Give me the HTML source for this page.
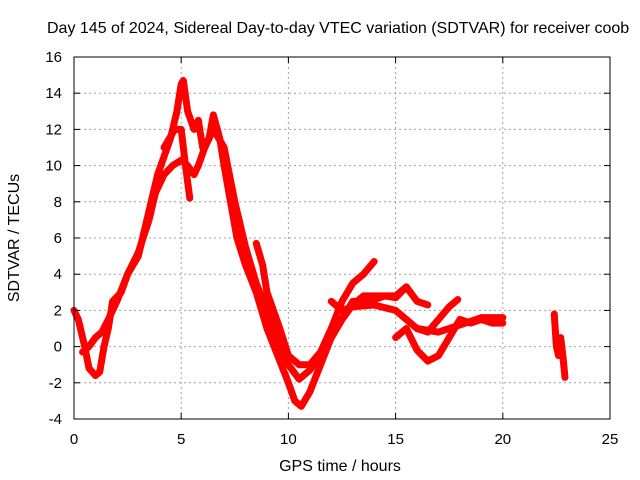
<!DOCTYPE html>
<html><head><meta charset="utf-8"><style>
body{margin:0;background:#fff}
svg{display:block;font-family:"Liberation Sans",sans-serif}
</style></head><body>
<svg id="chart" width="640" height="480">
<text x="47" y="33" font-size="16" text-anchor="start">Day 145 of 2024, Sidereal Day-to-day VTEC variation (SDTVAR) for receiver coob</text>
<text x="340" y="471" font-size="16" text-anchor="middle">GPS time / hours</text>
<text transform="translate(19,238) rotate(-90)" font-size="16" text-anchor="middle">SDTVAR / TECUs</text>
<g id="grid"></g><g id="series"></g><g id="axes"></g>
</svg>
<script>
const xTicks=[0,5,10,15,20,25];
const yTicks=[-4,-2,0,2,4,6,8,10,12,14,16];
const track1=[[0,2],[0.2,1.5],[0.5,0],[0.7,-1.2],[1.0,-1.6],[1.2,-1.4],[1.4,0],[1.6,1],[1.8,2.5],[2.2,3],[2.5,4],[3,5],[3.3,6.5],[3.6,8],[3.9,9.5],[4.2,10.5],[4.5,11.5],[4.8,13],[5.0,14.5],[5.1,14.7],[5.3,13],[5.6,12],[5.8,12.5],[6.0,11],[6.3,11.5],[6.5,12.8],[6.8,11.5],[7.0,10],[7.3,8],[7.6,6],[8,4.5],[8.5,3],[9,1],[9.5,-0.5],[10,-2],[10.3,-3],[10.6,-3.3],[11,-2.5],[11.5,-1],[12,0.5],[12.5,1.5],[13,2.3],[13.5,2.8],[14,2.8],[15,2.8],[15.5,3.3]];
const track2=[[0.4,-0.3],[0.7,0],[1,0.5],[1.3,0.8],[1.6,1.5],[2,2.5],[2.5,4],[3,5.2],[3.5,7],[3.8,8.5],[4.2,9.5],[4.6,10],[5,10.3],[5.3,10],[5.6,9.5],[5.8,10],[6.1,11],[6.5,12],[7,11],[7.5,8],[8,5.5],[8.5,3.5],[9,2],[9.5,0.5],[10,-1],[10.5,-1.8],[11,-1.3],[11.5,-0.5],[12,0.5],[12.5,1.5],[13,2.5],[13.5,2.5],[14,2.6],[14.5,2.8],[15,2.7],[15.5,3.3],[16,2.5],[16.5,2.3]];
const track3=[[4.2,11],[4.7,12],[5.0,12],[5.2,10],[5.4,8.2]];
const track4=[[8.5,5.7],[8.8,4.5],[9,3],[9.3,2],[9.6,1],[10,-0.5],[10.5,-1],[11,-1],[11.5,-0.3],[12,1],[12.5,2.5],[13,3.5],[13.5,4],[14,4.7]];
const track5=[[15,0.5],[15.5,1],[16,-0.2],[16.5,-0.8],[17,-0.5],[17.5,0.5],[18,1.5],[18.5,1.3],[19,1.5],[19.5,1.3],[20,1.3]];
const track6=[[12,2.5],[12.5,2],[13,2.2],[14,2.3],[15,2],[15.5,1.5],[16,1],[16.5,0.8],[17,1.5],[17.5,2.2],[17.9,2.6]];
const track7=[[16,1],[17,0.8],[18,1.2],[19,1.6],[20,1.6]];
const track8=[[22.4,1.8],[22.5,0],[22.6,-0.5],[22.7,0.5],[22.8,-0.5],[22.9,-1.7]];
const tracks=[track1,track2,track3,track4,track5,track6,track7,track8];
const X0=74,X1=610,Y0=419,Y1=57;
const xs=v=>X0+(v-0)/(25-0)*(X1-X0);
const ys=v=>Y0-(v+4)/(16+4)*(Y0-Y1);
const NS="http://www.w3.org/2000/svg";
const grid=document.getElementById('grid'),axes=document.getElementById('axes'),ser=document.getElementById('series');
function mk(tag,attrs,parent){const e=document.createElementNS(NS,tag);for(const k in attrs)e.setAttribute(k,attrs[k]);parent.appendChild(e);return e;}
xTicks.forEach(t=>{
  const x=xs(t);
  if(t>0&&t<25){const g=mk('line',{x1:x,x2:x,y1:Y1,y2:Y0,stroke:'#a0a0a0','stroke-dasharray':'2,3'},grid);
  
  }
  mk('line',{x1:x,x2:x,y1:Y0,y2:Y0-6,stroke:'#000'},axes);
  mk('line',{x1:x,x2:x,y1:Y1,y2:Y1+6,stroke:'#000'},axes);
  const l=mk('text',{x:x,y:Y0+25,'font-size':15,'text-anchor':'middle'},axes);l.textContent=t;
  
  
});
yTicks.forEach(t=>{
  const y=ys(t);
  if(t>-4&&t<16){const g=mk('line',{x1:X0,x2:X1,y1:y,y2:y,stroke:'#a0a0a0','stroke-dasharray':'2,3'},grid);
  
  }
  mk('line',{x1:X0,x2:X0+6,y1:y,y2:y,stroke:'#000'},axes);
  mk('line',{x1:X1,x2:X1-6,y1:y,y2:y,stroke:'#000'},axes);
  const l=mk('text',{x:X0-12,y:y+5,'font-size':15,'text-anchor':'end'},axes);l.textContent=t;
  
  
});
const b=mk('rect',{x:X0,y:Y1,width:X1-X0,height:Y0-Y1,fill:'none',stroke:'#000'},axes);


tracks.forEach((tr,i)=>{
  const p=mk('polyline',{points:tr.map(d=>xs(d[0])+','+ys(d[1])).join(' '),fill:'none',stroke:'#ff0000','stroke-width':7,'stroke-linejoin':'round','stroke-linecap':'round'},ser);
  
  
});
</script>
</body></html>
